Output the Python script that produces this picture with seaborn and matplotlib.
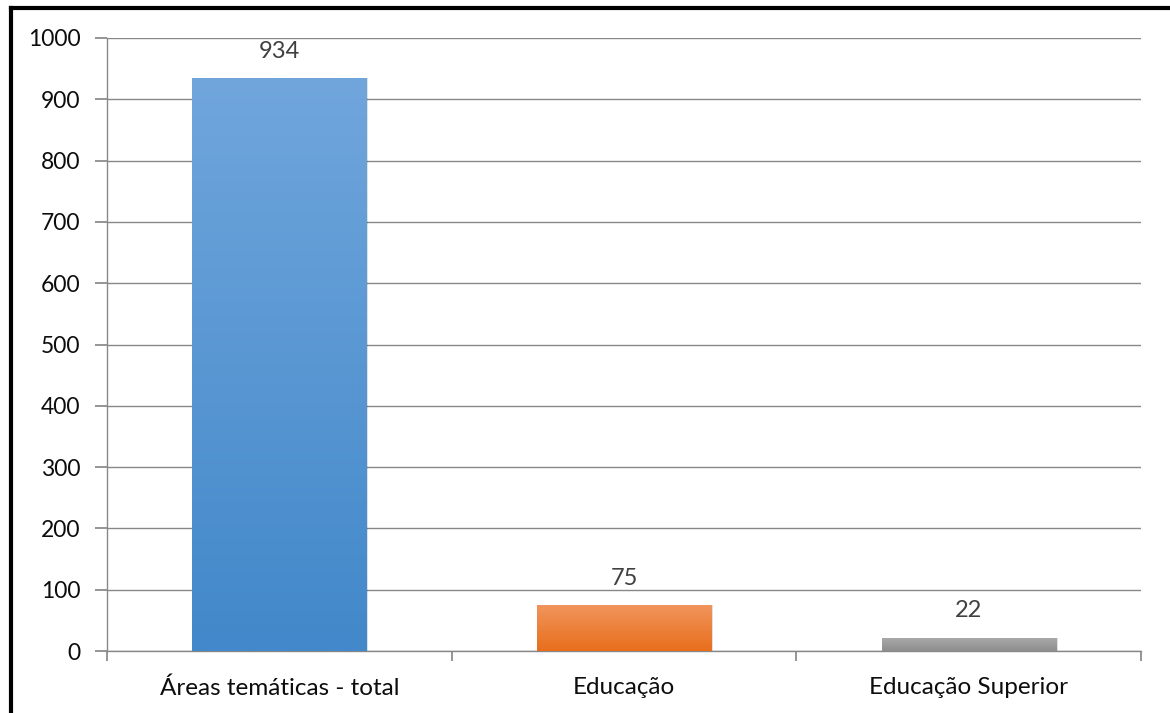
import numpy as np
import pandas as pd
import matplotlib
matplotlib.use("Agg")
import matplotlib.pyplot as plt
import seaborn as sns
from matplotlib.colors import LinearSegmentedColormap
from matplotlib.patches import Rectangle
from matplotlib.lines import Line2D

categories = ["Áreas temáticas - total", "Educação", "Educação Superior"]
values = [934, 75, 22]
yticks = [0, 100, 200, 300, 400, 500, 600, 700, 800, 900, 1000]

top_colors = ["#70A6DC", "#F1955C", "#AAAAAA"]
bottom_colors = ["#4288CA", "#E86E1C", "#8E8E8E"]

sns.set_theme(style="white")
plt.rcParams['font.family'] = ['Lato', 'DejaVu Sans']

fig = plt.figure(figsize=(11.7, 7.13), dpi=100)
ax = fig.add_axes([107/1170, 1-651/713, (1141-107)/1170, (651-38)/713])

df = pd.DataFrame({"cat": categories, "val": values})
sns.barplot(data=df, x="cat", y="val", ax=ax, width=0.505,
            color="#5B9BD5", saturation=1)

ax.set_xlim(-0.5, 2.5)
ax.set_ylim(0, 1000)
ax.set_yticks(yticks)
ax.set_xlabel("")
ax.set_ylabel("")

for i, patch in enumerate(ax.patches):
    x0, y0 = patch.get_x(), patch.get_y()
    w, h = patch.get_width(), patch.get_height()
    sh = Rectangle((x0 + 0.006, y0), w, h, transform=ax.transData,
                   facecolor="#000000", alpha=0.12, edgecolor="none", zorder=2)
    ax.add_patch(sh)
    cmap = LinearSegmentedColormap.from_list("g", [bottom_colors[i], top_colors[i]])
    grad = np.linspace(0, 1, 256).reshape(-1, 1)
    im = ax.imshow(grad, cmap=cmap, aspect="auto", origin="lower",
                   extent=[x0, x0 + w, y0, y0 + h], zorder=3)
    im.set_clip_path(patch)
    patch.set_facecolor("none")
    patch.set_edgecolor("none")
    patch.set_zorder(3)
    ax.text(x0 + w / 2, h + 27 / 0.613, f"{values[i]}", ha="center", va="center",
            fontsize=17, color="#404040")

ax.set_xlim(-0.5, 2.5)
ax.set_ylim(0, 1000)
ax.grid(axis="y", color="#888888", linewidth=1)
ax.set_axisbelow(True)
for s in ["top", "right"]:
    ax.spines[s].set_visible(False)
ax.spines["left"].set_color("#888888")
ax.spines["bottom"].set_color("#888888")
ax.spines["left"].set_linewidth(1)
ax.spines["bottom"].set_linewidth(1)

ax.set_xticks([-0.5, 0.5, 1.5, 2.5], minor=False)
ax.set_xticklabels([])
ax.set_xticks([0, 1, 2], minor=True)
ax.set_xticklabels(categories, minor=True, fontsize=17.5, color="#0d0d0d")
ax.tick_params(axis="x", which="major", length=7, color="#888888", direction="out", bottom=True)
ax.tick_params(axis="x", which="minor", length=0, pad=19)
ax.tick_params(axis="y", length=9, color="#888888", direction="out", left=True,
               labelsize=16.5, labelcolor="#0d0d0d", pad=10)

# Frame: only left and top edges are visible in the reference
xl = 10.5 / 1170
yt = 1 - 8 / 713
fig.lines.append(Line2D([xl, xl], [0, yt], transform=fig.transFigure,
                        color="black", linewidth=3, solid_capstyle="projecting"))
fig.lines.append(Line2D([xl, 1], [yt, yt], transform=fig.transFigure,
                        color="black", linewidth=3, solid_capstyle="projecting"))

fig.savefig("out.png", dpi=100, facecolor="white")
